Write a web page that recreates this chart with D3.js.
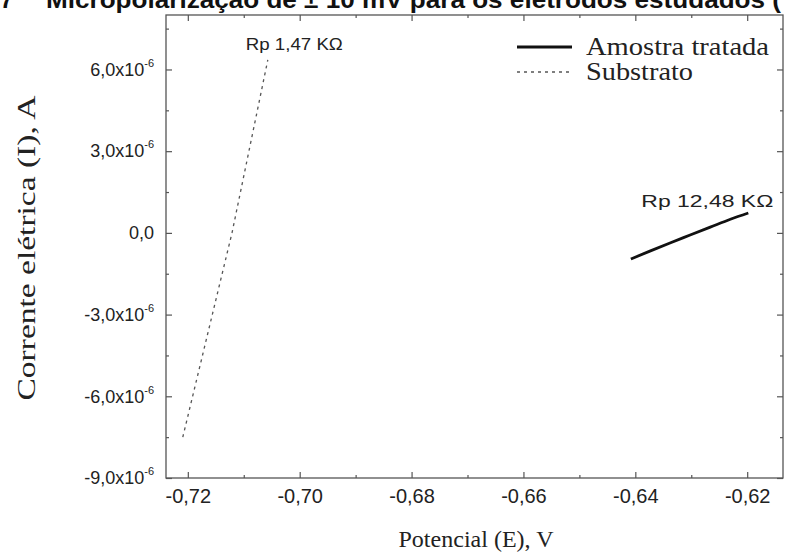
<!DOCTYPE html>
<html><head><meta charset="utf-8">
<script src="https://cdn.jsdelivr.net/npm/d3@7"></script>
<style>body{margin:0;background:#fff}svg{display:block}</style>
</head><body>
<svg id="chart" width="790" height="553"></svg>
<script>
// Figure caption line (cropped at the top of the figure)
const captionNumber = "7";
const captionText = "Micropolarização de ± 10 mV para os eletrodos estudados (";

// Axis ticks
const xTicks = [-0.72, -0.70, -0.68, -0.66, -0.64, -0.62];
const xMinorTicks = [-0.73, -0.71, -0.69, -0.67, -0.65, -0.63, -0.61];
const yTicks = [-9e-6, -6e-6, -3e-6, 0, 3e-6, 6e-6];
const yMinorTicks = [-7.5e-6, -4.5e-6, -1.5e-6, 1.5e-6, 4.5e-6, 7.5e-6];

// Series: potential E (V) and current I (A)
const seriesNames = ["Amostra tratada", "Substrato"];
const treatedE = [-0.6408, -0.6374, -0.6338, -0.6302, -0.6266, -0.6230, -0.6198];
const treatedI = [-0.96e-6, -0.67e-6, -0.37e-6, -0.08e-6, 0.21e-6, 0.50e-6, 0.73e-6];
const substrateE = [-0.7209, -0.7121, -0.7057];
const substrateI = [-7.50e-6, 0.0, 6.35e-6];

// Polarization resistance labels
const rpLabels = ["Rp 1,47 KΩ", "Rp 12,48 KΩ"];

const svg = d3.select("#chart");
const frame = {left: 166, right: 783, top: 15, bottom: 478};

const x = d3.scaleLinear().domain([-0.7239, -0.6136]).range([frame.left, frame.right]);
const y = d3.scaleLinear().domain([-9e-6, 8e-6]).range([frame.bottom, frame.top]);

const axisColor = "#555";
const textColor = "#222";
const sans = "Liberation Sans, Arial, sans-serif";
const serif = "Liberation Serif, Times New Roman, serif";

// caption
const cap = svg.append("g").attr("font-family", sans)
  .attr("font-weight", "bold").attr("font-size", 24).attr("fill", "#111");
cap.append("text").attr("x", 0).attr("y", 8).text(captionNumber);
cap.append("text").attr("x", 46).attr("y", 8)
  .attr("textLength", 735).attr("lengthAdjust", "spacingAndGlyphs").text(captionText);

// frame
svg.append("rect").attr("x", frame.left).attr("y", frame.top)
  .attr("width", frame.right - frame.left).attr("height", frame.bottom - frame.top)
  .attr("fill", "none").attr("stroke", axisColor).attr("stroke-width", 1.3);

function styleAxis(g) {
  g.select(".domain").remove();
  g.selectAll(".tick line").attr("stroke", axisColor).attr("stroke-width", 1.2);
  g.selectAll(".tick text").attr("fill", textColor).attr("font-family", sans);
}

const fmtX = d => d3.format(".2f")(d).replace("−", "-").replace(".", ",");
const inside = v => x(v) > frame.left && x(v) < frame.right;

// bottom axis (labelled), ticks pointing inward
svg.append("g").attr("transform", `translate(0,${frame.bottom})`)
  .call(d3.axisBottom(x).tickValues(xTicks).tickSize(-6).tickPadding(11).tickFormat(fmtX))
  .call(styleAxis)
  .call(g => g.selectAll(".tick text").attr("font-size", 20));
svg.append("g").attr("transform", `translate(0,${frame.bottom})`)
  .call(d3.axisBottom(x).tickValues(xMinorTicks.filter(inside)).tickSize(-3).tickFormat(""))
  .call(styleAxis);
// top mirror axis
svg.append("g").attr("transform", `translate(0,${frame.top})`)
  .call(d3.axisTop(x).tickValues(xTicks).tickSize(-6).tickFormat(""))
  .call(styleAxis);
svg.append("g").attr("transform", `translate(0,${frame.top})`)
  .call(d3.axisTop(x).tickValues(xMinorTicks.filter(inside)).tickSize(-3).tickFormat(""))
  .call(styleAxis);

// left axis (labelled)
const yAxisG = svg.append("g").attr("transform", `translate(${frame.left},0)`)
  .call(d3.axisLeft(y).tickValues(yTicks).tickSize(-6).tickPadding(12).tickFormat(""))
  .call(styleAxis);
yAxisG.selectAll(".tick text").attr("font-size", 18).each(function(d) {
  const t = d3.select(this);
  if (d === 0) { t.text("0,0"); return; }
  const m = d3.format(".1f")(d * 1e6).replace("−", "-").replace(".", ",");
  t.append("tspan").text(m + "x10");
  t.append("tspan").attr("dy", -9).attr("font-size", 11).text("-6");
});
svg.append("g").attr("transform", `translate(${frame.left},0)`)
  .call(d3.axisLeft(y).tickValues(yMinorTicks).tickSize(-3).tickFormat(""))
  .call(styleAxis);
// right mirror axis
svg.append("g").attr("transform", `translate(${frame.right},0)`)
  .call(d3.axisRight(y).tickValues(yTicks).tickSize(-6).tickFormat(""))
  .call(styleAxis);
svg.append("g").attr("transform", `translate(${frame.right},0)`)
  .call(d3.axisRight(y).tickValues(yMinorTicks).tickSize(-3).tickFormat(""))
  .call(styleAxis);

// axis titles
svg.append("text").attr("x", 476).attr("y", 547)
  .attr("text-anchor", "middle").attr("font-family", serif)
  .attr("font-size", 24).attr("fill", textColor)
  .attr("textLength", 155).attr("lengthAdjust", "spacingAndGlyphs").text("Potencial (E), V");
svg.append("text").attr("transform", `translate(35,248) rotate(-90)`)
  .attr("text-anchor", "middle").attr("font-family", serif)
  .attr("font-size", 25).attr("fill", textColor)
  .attr("textLength", 305).attr("lengthAdjust", "spacingAndGlyphs").text("Corrente elétrica (I), A");

// series
const treated = treatedE.map((e, i) => [e, treatedI[i]]);
const substrate = substrateE.map((e, i) => [e, substrateI[i]]);

svg.append("path").datum(substrate)
  .attr("d", d3.line().x(d => x(d[0])).y(d => y(d[1])))
  .attr("fill", "none").attr("stroke", "#555").attr("stroke-width", 1.3)
  .attr("stroke-dasharray", "3,4");
svg.append("path").datum(treated)
  .attr("d", d3.line().x(d => x(d[0])).y(d => y(d[1])).curve(d3.curveMonotoneX))
  .attr("fill", "none").attr("stroke", "#111").attr("stroke-width", 2.8);

// Rp annotations near the ends of each curve
const ann = svg.append("g").attr("font-family", sans)
  .attr("font-size", 17).attr("fill", textColor);
const sEnd = substrate[substrate.length - 1];
ann.append("text").attr("x", x(sEnd[0]) - 22).attr("y", y(sEnd[1]) - 10)
  .attr("textLength", 97).attr("lengthAdjust", "spacingAndGlyphs").text(rpLabels[0]);
const tEnd = treated[treated.length - 1];
ann.append("text").attr("x", x(tEnd[0]) + 25).attr("y", y(tEnd[1]) - 6)
  .attr("text-anchor", "end")
  .attr("textLength", 132).attr("lengthAdjust", "spacingAndGlyphs").text(rpLabels[1]);

// legend
const leg = svg.append("g").attr("font-family", serif)
  .attr("font-size", 25).attr("fill", textColor);
leg.append("line").attr("x1", 517).attr("x2", 572).attr("y1", 47).attr("y2", 47)
  .attr("stroke", "#111").attr("stroke-width", 2.8);
leg.append("text").attr("x", 586).attr("y", 55)
  .attr("textLength", 183).attr("lengthAdjust", "spacingAndGlyphs").text(seriesNames[0]);
leg.append("line").attr("x1", 517).attr("x2", 572).attr("y1", 72).attr("y2", 72)
  .attr("stroke", "#555").attr("stroke-width", 1.3).attr("stroke-dasharray", "3,4");
leg.append("text").attr("x", 586).attr("y", 80)
  .attr("textLength", 107).attr("lengthAdjust", "spacingAndGlyphs").text(seriesNames[1]);
</script>
</body></html>
